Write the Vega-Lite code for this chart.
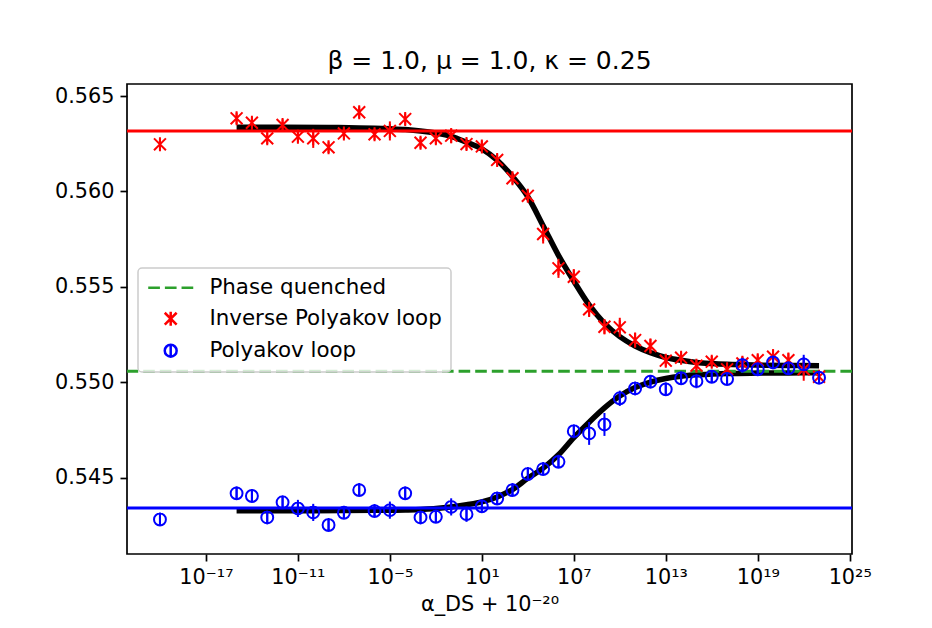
{
  "$schema": "https://vega.github.io/schema/vega-lite/v6.json",
  "width": 725,
  "height": 470,
  "autosize": {"type": "none"},
  "padding": {"left": 127, "top": 84, "right": 80, "bottom": 74},
  "background": "white",
  "title": {"text": "β = 1.0, μ = 1.0, κ = 0.25"},
  "datasets": {
    "hl": [
      {"s": "Inverse Polyakov loop", "y": 0.563166},
      {"s": "Polyakov loop", "y": 0.543412},
      {"s": "Phase quenched", "y": 0.550575}
    ],
    "fit": [
      {"s": "Inverse Polyakov loop", "x": 1e-15, "y": 0.56336},
      {"s": "Inverse Polyakov loop", "x": 1e-12, "y": 0.56336},
      {"s": "Inverse Polyakov loop", "x": 1e-9, "y": 0.56335},
      {"s": "Inverse Polyakov loop", "x": 1e-7, "y": 0.56333},
      {"s": "Inverse Polyakov loop", "x": 1e-6, "y": 0.56331},
      {"s": "Inverse Polyakov loop", "x": 1e-5, "y": 0.56328},
      {"s": "Inverse Polyakov loop", "x": 1e-4, "y": 0.56324},
      {"s": "Inverse Polyakov loop", "x": 1e-3, "y": 0.56317},
      {"s": "Inverse Polyakov loop", "x": 1e-2, "y": 0.56306},
      {"s": "Inverse Polyakov loop", "x": 1e-1, "y": 0.56289},
      {"s": "Inverse Polyakov loop", "x": 1, "y": 0.56258},
      {"s": "Inverse Polyakov loop", "x": 1e1, "y": 0.56223},
      {"s": "Inverse Polyakov loop", "x": 1e2, "y": 0.56163},
      {"s": "Inverse Polyakov loop", "x": 1e3, "y": 0.56078},
      {"s": "Inverse Polyakov loop", "x": 1e4, "y": 0.55972},
      {"s": "Inverse Polyakov loop", "x": 1e5, "y": 0.55820},
      {"s": "Inverse Polyakov loop", "x": 1e6, "y": 0.55665},
      {"s": "Inverse Polyakov loop", "x": 1e7, "y": 0.55530},
      {"s": "Inverse Polyakov loop", "x": 1e8, "y": 0.55405},
      {"s": "Inverse Polyakov loop", "x": 1e9, "y": 0.55309},
      {"s": "Inverse Polyakov loop", "x": 1e10, "y": 0.55239},
      {"s": "Inverse Polyakov loop", "x": 1e11, "y": 0.55190},
      {"s": "Inverse Polyakov loop", "x": 1e12, "y": 0.55155},
      {"s": "Inverse Polyakov loop", "x": 1e13, "y": 0.55130},
      {"s": "Inverse Polyakov loop", "x": 1e14, "y": 0.55115},
      {"s": "Inverse Polyakov loop", "x": 1e15, "y": 0.55104},
      {"s": "Inverse Polyakov loop", "x": 1e16, "y": 0.55098},
      {"s": "Inverse Polyakov loop", "x": 1e17, "y": 0.55094},
      {"s": "Inverse Polyakov loop", "x": 1e19, "y": 0.55090},
      {"s": "Inverse Polyakov loop", "x": 1e21, "y": 0.55088},
      {"s": "Inverse Polyakov loop", "x": 1e23, "y": 0.55087},
      {"s": "Polyakov loop", "x": 1e-15, "y": 0.54327},
      {"s": "Polyakov loop", "x": 1e-10, "y": 0.54327},
      {"s": "Polyakov loop", "x": 1e-6, "y": 0.54329},
      {"s": "Polyakov loop", "x": 1e-4, "y": 0.54331},
      {"s": "Polyakov loop", "x": 1e-3, "y": 0.54334},
      {"s": "Polyakov loop", "x": 1e-2, "y": 0.54338},
      {"s": "Polyakov loop", "x": 1e-1, "y": 0.54346},
      {"s": "Polyakov loop", "x": 1, "y": 0.54358},
      {"s": "Polyakov loop", "x": 1e1, "y": 0.54373},
      {"s": "Polyakov loop", "x": 1e2, "y": 0.54399},
      {"s": "Polyakov loop", "x": 1e3, "y": 0.54438},
      {"s": "Polyakov loop", "x": 1e4, "y": 0.54497},
      {"s": "Polyakov loop", "x": 1e5, "y": 0.54550},
      {"s": "Polyakov loop", "x": 1e6, "y": 0.54620},
      {"s": "Polyakov loop", "x": 1e7, "y": 0.54710},
      {"s": "Polyakov loop", "x": 1e8, "y": 0.54791},
      {"s": "Polyakov loop", "x": 1e9, "y": 0.54866},
      {"s": "Polyakov loop", "x": 1e10, "y": 0.54928},
      {"s": "Polyakov loop", "x": 1e11, "y": 0.54972},
      {"s": "Polyakov loop", "x": 1e12, "y": 0.55001},
      {"s": "Polyakov loop", "x": 1e13, "y": 0.55020},
      {"s": "Polyakov loop", "x": 1e14, "y": 0.55032},
      {"s": "Polyakov loop", "x": 1e15, "y": 0.55039},
      {"s": "Polyakov loop", "x": 1e16, "y": 0.55043},
      {"s": "Polyakov loop", "x": 1e17, "y": 0.55046},
      {"s": "Polyakov loop", "x": 1e19, "y": 0.55048},
      {"s": "Polyakov loop", "x": 1e21, "y": 0.55049},
      {"s": "Polyakov loop", "x": 1e23, "y": 0.55050}
    ],
    "pts": [
      {"s": "Inverse Polyakov loop", "x": 1e-20, "y": 0.56247, "err": 0.0003},
      {"s": "Inverse Polyakov loop", "x": 1e-15, "y": 0.56383, "err": 0.0003},
      {"s": "Inverse Polyakov loop", "x": 1e-14, "y": 0.56360, "err": 0.0003},
      {"s": "Inverse Polyakov loop", "x": 1e-13, "y": 0.56278, "err": 0.0003},
      {"s": "Inverse Polyakov loop", "x": 1e-12, "y": 0.56348, "err": 0.0003},
      {"s": "Inverse Polyakov loop", "x": 1e-11, "y": 0.56287, "err": 0.0003},
      {"s": "Inverse Polyakov loop", "x": 1e-10, "y": 0.56278, "err": 0.0005},
      {"s": "Inverse Polyakov loop", "x": 1e-9, "y": 0.56231, "err": 0.0003},
      {"s": "Inverse Polyakov loop", "x": 1e-8, "y": 0.56304, "err": 0.0003},
      {"s": "Inverse Polyakov loop", "x": 1e-7, "y": 0.56415, "err": 0.0003},
      {"s": "Inverse Polyakov loop", "x": 1e-6, "y": 0.56299, "err": 0.0003},
      {"s": "Inverse Polyakov loop", "x": 1e-5, "y": 0.56317, "err": 0.0005},
      {"s": "Inverse Polyakov loop", "x": 1e-4, "y": 0.56379, "err": 0.0003},
      {"s": "Inverse Polyakov loop", "x": 1e-3, "y": 0.56255, "err": 0.0003},
      {"s": "Inverse Polyakov loop", "x": 1e-2, "y": 0.56278, "err": 0.0003},
      {"s": "Inverse Polyakov loop", "x": 1e-1, "y": 0.56292, "err": 0.0004},
      {"s": "Inverse Polyakov loop", "x": 1, "y": 0.56248, "err": 0.0003},
      {"s": "Inverse Polyakov loop", "x": 1e1, "y": 0.56236, "err": 0.0003},
      {"s": "Inverse Polyakov loop", "x": 1e2, "y": 0.56165, "err": 0.0003},
      {"s": "Inverse Polyakov loop", "x": 1e3, "y": 0.56069, "err": 0.0003},
      {"s": "Inverse Polyakov loop", "x": 1e4, "y": 0.55977, "err": 0.0003},
      {"s": "Inverse Polyakov loop", "x": 1e5, "y": 0.55777, "err": 0.0005},
      {"s": "Inverse Polyakov loop", "x": 1e6, "y": 0.55597, "err": 0.0005},
      {"s": "Inverse Polyakov loop", "x": 1e7, "y": 0.55553, "err": 0.0004},
      {"s": "Inverse Polyakov loop", "x": 1e8, "y": 0.55382, "err": 0.0004},
      {"s": "Inverse Polyakov loop", "x": 1e9, "y": 0.55291, "err": 0.0004},
      {"s": "Inverse Polyakov loop", "x": 1e10, "y": 0.55288, "err": 0.0005},
      {"s": "Inverse Polyakov loop", "x": 1e11, "y": 0.55221, "err": 0.0004},
      {"s": "Inverse Polyakov loop", "x": 1e12, "y": 0.55190, "err": 0.0004},
      {"s": "Inverse Polyakov loop", "x": 1e13, "y": 0.55113, "err": 0.0003},
      {"s": "Inverse Polyakov loop", "x": 1e14, "y": 0.55129, "err": 0.0003},
      {"s": "Inverse Polyakov loop", "x": 1e15, "y": 0.55087, "err": 0.0003},
      {"s": "Inverse Polyakov loop", "x": 1e16, "y": 0.55108, "err": 0.0003},
      {"s": "Inverse Polyakov loop", "x": 1e17, "y": 0.55068, "err": 0.0003},
      {"s": "Inverse Polyakov loop", "x": 1e18, "y": 0.55099, "err": 0.0004},
      {"s": "Inverse Polyakov loop", "x": 1e19, "y": 0.55116, "err": 0.0003},
      {"s": "Inverse Polyakov loop", "x": 1e20, "y": 0.55134, "err": 0.0004},
      {"s": "Inverse Polyakov loop", "x": 1e21, "y": 0.55116, "err": 0.0004},
      {"s": "Inverse Polyakov loop", "x": 1e22, "y": 0.55068, "err": 0.0006},
      {"s": "Inverse Polyakov loop", "x": 1e23, "y": 0.55029, "err": 0.0003},
      {"s": "Polyakov loop", "x": 1e-20, "y": 0.54281, "err": 0.0003},
      {"s": "Polyakov loop", "x": 1e-15, "y": 0.54418, "err": 0.0003},
      {"s": "Polyakov loop", "x": 1e-14, "y": 0.54404, "err": 0.0003},
      {"s": "Polyakov loop", "x": 1e-13, "y": 0.54292, "err": 0.0003},
      {"s": "Polyakov loop", "x": 1e-12, "y": 0.54371, "err": 0.0003},
      {"s": "Polyakov loop", "x": 1e-11, "y": 0.54339, "err": 0.00045},
      {"s": "Polyakov loop", "x": 1e-10, "y": 0.54318, "err": 0.00045},
      {"s": "Polyakov loop", "x": 1e-9, "y": 0.54252, "err": 0.0003},
      {"s": "Polyakov loop", "x": 1e-8, "y": 0.54316, "err": 0.0003},
      {"s": "Polyakov loop", "x": 1e-7, "y": 0.54435, "err": 0.0003},
      {"s": "Polyakov loop", "x": 1e-6, "y": 0.54325, "err": 0.0003},
      {"s": "Polyakov loop", "x": 1e-5, "y": 0.54330, "err": 0.00045},
      {"s": "Polyakov loop", "x": 1e-4, "y": 0.54418, "err": 0.0003},
      {"s": "Polyakov loop", "x": 1e-3, "y": 0.54292, "err": 0.0003},
      {"s": "Polyakov loop", "x": 1e-2, "y": 0.54295, "err": 0.0003},
      {"s": "Polyakov loop", "x": 1e-1, "y": 0.54347, "err": 0.00045},
      {"s": "Polyakov loop", "x": 1, "y": 0.54309, "err": 0.0004},
      {"s": "Polyakov loop", "x": 1e1, "y": 0.54350, "err": 0.0003},
      {"s": "Polyakov loop", "x": 1e2, "y": 0.54391, "err": 0.0003},
      {"s": "Polyakov loop", "x": 1e3, "y": 0.54435, "err": 0.0003},
      {"s": "Polyakov loop", "x": 1e4, "y": 0.54519, "err": 0.0003},
      {"s": "Polyakov loop", "x": 1e5, "y": 0.54545, "err": 0.0003},
      {"s": "Polyakov loop", "x": 1e6, "y": 0.54583, "err": 0.0003},
      {"s": "Polyakov loop", "x": 1e7, "y": 0.54744, "err": 0.0003},
      {"s": "Polyakov loop", "x": 1e8, "y": 0.54732, "err": 0.0006},
      {"s": "Polyakov loop", "x": 1e9, "y": 0.54779, "err": 0.0006},
      {"s": "Polyakov loop", "x": 1e10, "y": 0.54916, "err": 0.0004},
      {"s": "Polyakov loop", "x": 1e11, "y": 0.54968, "err": 0.0003},
      {"s": "Polyakov loop", "x": 1e12, "y": 0.55003, "err": 0.0003},
      {"s": "Polyakov loop", "x": 1e13, "y": 0.54963, "err": 0.0003},
      {"s": "Polyakov loop", "x": 1e14, "y": 0.55021, "err": 0.0003},
      {"s": "Polyakov loop", "x": 1e15, "y": 0.55006, "err": 0.0003},
      {"s": "Polyakov loop", "x": 1e16, "y": 0.55029, "err": 0.0003},
      {"s": "Polyakov loop", "x": 1e17, "y": 0.55017, "err": 0.0003},
      {"s": "Polyakov loop", "x": 1e18, "y": 0.55090, "err": 0.0004},
      {"s": "Polyakov loop", "x": 1e19, "y": 0.55068, "err": 0.0003},
      {"s": "Polyakov loop", "x": 1e20, "y": 0.55104, "err": 0.0003},
      {"s": "Polyakov loop", "x": 1e21, "y": 0.55073, "err": 0.0003},
      {"s": "Polyakov loop", "x": 1e22, "y": 0.55094, "err": 0.0005},
      {"s": "Polyakov loop", "x": 1e23, "y": 0.55024, "err": 0.0003}
    ]
  },
  "layer": [
    {
      "data": {"name": "fit"},
      "mark": {"type": "line", "color": "black", "strokeWidth": 5.5, "interpolate": "monotone", "strokeCap": "butt"},
      "encoding": {
        "x": {"field": "x", "type": "quantitative", "scale": {"type": "log", "domain": [7.08e-23, 1.413e25], "nice": false}, "axis": {"title": "α_DS + 10⁻²⁰", "values": [1e-17, 1e-11, 1e-5, 10, 1e7, 1e13, 1e19, 1e25], "labelExpr": "datum.value < 1e-15 ? '10⁻¹⁷' : datum.value < 1e-9 ? '10⁻¹¹' : datum.value < 1e-3 ? '10⁻⁵' : datum.value < 1e3 ? '10¹' : datum.value < 1e9 ? '10⁷' : datum.value < 1e15 ? '10¹³' : datum.value < 1e21 ? '10¹⁹' : '10²⁵'"}},
        "y": {"field": "y", "type": "quantitative", "scale": {"domain": [0.541002, 0.565629], "nice": false, "zero": false}, "axis": {"title": null, "values": [0.545, 0.55, 0.555, 0.56, 0.565], "format": ".3f"}},
        "detail": {"field": "s", "type": "nominal"}
      }
    },
    {
      "data": {"name": "hl"},
      "transform": [{"filter": "datum.s == 'Inverse Polyakov loop'"}],
      "mark": {"type": "rule", "color": "#ff0000", "strokeWidth": 3},
      "encoding": {"y": {"field": "y", "type": "quantitative", "scale": {"domain": [0.541002, 0.565629], "nice": false, "zero": false}, "axis": {"title": null, "values": [0.545, 0.55, 0.555, 0.56, 0.565], "format": ".3f"}}}
    },
    {
      "data": {"name": "hl"},
      "transform": [{"filter": "datum.s == 'Polyakov loop'"}],
      "mark": {"type": "rule", "color": "#0000ff", "strokeWidth": 3},
      "encoding": {"y": {"field": "y", "type": "quantitative", "scale": {"domain": [0.541002, 0.565629], "nice": false, "zero": false}, "axis": {"title": null, "values": [0.545, 0.55, 0.555, 0.56, 0.565], "format": ".3f"}}}
    },
    {
      "data": {"name": "hl"},
      "transform": [{"filter": "datum.s == 'Phase quenched'"}],
      "mark": {"type": "rule", "color": "#2ca02c", "strokeWidth": 3, "strokeDash": [11.6, 5]},
      "encoding": {"y": {"field": "y", "type": "quantitative", "scale": {"domain": [0.541002, 0.565629], "nice": false, "zero": false}, "axis": {"title": null, "values": [0.545, 0.55, 0.555, 0.56, 0.565], "format": ".3f"}}}
    },
    {
      "data": {"name": "pts"},
      "transform": [{"filter": "datum.s == 'Inverse Polyakov loop'"}],
      "mark": {"type": "errorbar", "color": "#ff0000", "thickness": 2},
      "encoding": {
        "x": {"field": "x", "type": "quantitative", "scale": {"type": "log", "domain": [7.08e-23, 1.413e25], "nice": false}, "axis": {"title": "α_DS + 10⁻²⁰", "values": [1e-17, 1e-11, 1e-5, 10, 1e7, 1e13, 1e19, 1e25], "labelExpr": "datum.value < 1e-15 ? '10⁻¹⁷' : datum.value < 1e-9 ? '10⁻¹¹' : datum.value < 1e-3 ? '10⁻⁵' : datum.value < 1e3 ? '10¹' : datum.value < 1e9 ? '10⁷' : datum.value < 1e15 ? '10¹³' : datum.value < 1e21 ? '10¹⁹' : '10²⁵'"}},
        "y": {"field": "y", "type": "quantitative", "scale": {"domain": [0.541002, 0.565629], "nice": false, "zero": false}, "axis": {"title": null, "values": [0.545, 0.55, 0.555, 0.56, 0.565], "format": ".3f"}},
        "yError": {"field": "err"}
      }
    },
    {
      "data": {"name": "pts"},
      "transform": [{"filter": "datum.s == 'Polyakov loop'"}],
      "mark": {"type": "errorbar", "color": "#0000ff", "thickness": 2},
      "encoding": {
        "x": {"field": "x", "type": "quantitative", "scale": {"type": "log", "domain": [7.08e-23, 1.413e25], "nice": false}, "axis": {"title": "α_DS + 10⁻²⁰", "values": [1e-17, 1e-11, 1e-5, 10, 1e7, 1e13, 1e19, 1e25], "labelExpr": "datum.value < 1e-15 ? '10⁻¹⁷' : datum.value < 1e-9 ? '10⁻¹¹' : datum.value < 1e-3 ? '10⁻⁵' : datum.value < 1e3 ? '10¹' : datum.value < 1e9 ? '10⁷' : datum.value < 1e15 ? '10¹³' : datum.value < 1e21 ? '10¹⁹' : '10²⁵'"}},
        "y": {"field": "y", "type": "quantitative", "scale": {"domain": [0.541002, 0.565629], "nice": false, "zero": false}, "axis": {"title": null, "values": [0.545, 0.55, 0.555, 0.56, 0.565], "format": ".3f"}},
        "yError": {"field": "err"}
      }
    },
    {
      "data": {"name": "pts"},
      "mark": {"type": "point", "filled": false, "size": 196, "strokeWidth": 2, "opacity": 1},
      "encoding": {
        "x": {"field": "x", "type": "quantitative", "scale": {"type": "log", "domain": [7.08e-23, 1.413e25], "nice": false}, "axis": {"title": "α_DS + 10⁻²⁰", "values": [1e-17, 1e-11, 1e-5, 10, 1e7, 1e13, 1e19, 1e25], "labelExpr": "datum.value < 1e-15 ? '10⁻¹⁷' : datum.value < 1e-9 ? '10⁻¹¹' : datum.value < 1e-3 ? '10⁻⁵' : datum.value < 1e3 ? '10¹' : datum.value < 1e9 ? '10⁷' : datum.value < 1e15 ? '10¹³' : datum.value < 1e21 ? '10¹⁹' : '10²⁵'"}},
        "y": {"field": "y", "type": "quantitative", "scale": {"domain": [0.541002, 0.565629], "nice": false, "zero": false}, "axis": {"title": null, "values": [0.545, 0.55, 0.555, 0.56, 0.565], "format": ".3f"}},
        "color": {"field": "s", "type": "nominal", "scale": {"domain": ["Phase quenched", "Inverse Polyakov loop", "Polyakov loop"], "range": ["#2ca02c", "#ff0000", "#0000ff"]}, "legend": {"title": null, "orient": "none", "legendX": 11, "legendY": 184}},
        "shape": {"field": "s", "type": "nominal", "scale": {"domain": ["Phase quenched", "Inverse Polyakov loop", "Polyakov loop"], "range": ["M-3.21,0L-1.54,0M-0.83,0L0.84,0M1.55,0L3.22,0", "M-0.85,-0.85L0.85,0.85M-0.85,0.85L0.85,-0.85M0,-1L0,1", "M0,-1L0,1M0.85,0A0.85,0.85,0,1,1,-0.85,0A0.85,0.85,0,1,1,0.85,0"]}, "legend": {"title": null, "orient": "none", "legendX": 11, "legendY": 184}}
      }
    }
  ],
  "config": {
    "font": "DejaVu Sans",
    "view": {"stroke": "black", "strokeWidth": 1.7},
    "axis": {"domain": false, "grid": false, "labelFontSize": 20.8, "labelColor": "black", "tickColor": "black", "tickWidth": 1.7, "tickSize": 7, "labelPadding": 6, "titleFontSize": 20.8, "titleFontWeight": "normal", "titleColor": "black", "titlePadding": 8},
    "title": {"fontSize": 25, "fontWeight": "normal", "color": "black", "offset": 10},
    "legend": {"padding": 9, "rowPadding": 7, "symbolSize": 196, "symbolStrokeWidth": 2.5, "symbolOffset": 13, "labelOffset": 28, "labelLimit": 500, "labelFontSize": 21.4, "labelColor": "black", "fillColor": "rgba(255,255,255,0.8)", "strokeColor": "#cccccc", "cornerRadius": 4, "strokeWidth": 1.5}
  }
}
